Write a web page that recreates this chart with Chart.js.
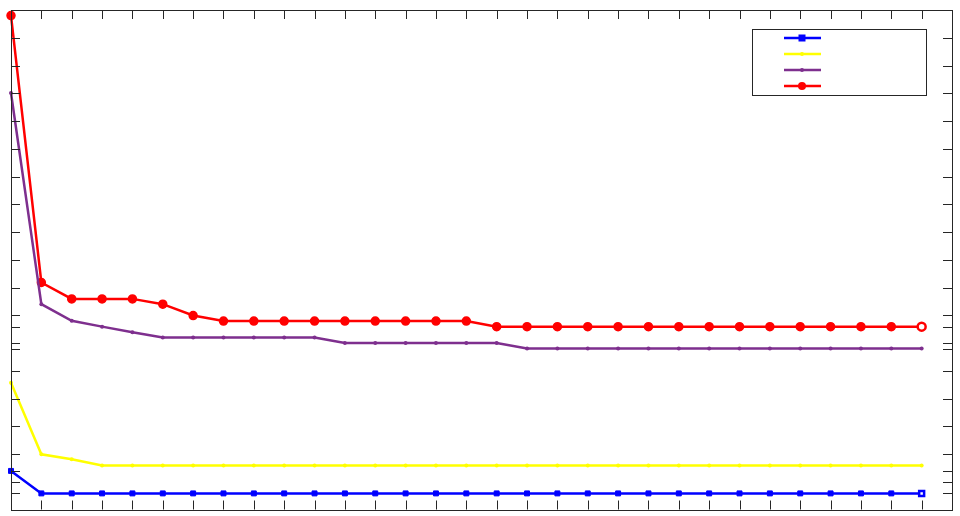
<!DOCTYPE html>
<html>
<head>
<meta charset="utf-8">
<script src="https://cdn.jsdelivr.net/npm/chart.js@4/dist/chart.umd.min.js"></script>
<style>
html,body{margin:0;padding:0;background:#fff;}
#wrap{width:960px;height:516px;position:relative;}
</style>
</head>
<body>
<div id="wrap"><canvas id="c"></canvas></div>
<script>
const xLabels = ['1','2','3','4','5','6','7','8','9','10','11','12','13','14','15','16','17','18','19','20','21','22','23','24','25','26','27','28','29','30','31','32'];
const blueValues = [1.39,0.58,0.58,0.58,0.58,0.58,0.58,0.58,0.58,0.58,0.58,0.58,0.58,0.58,0.58,0.58,0.58,0.58,0.58,0.58,0.58,0.58,0.58,0.58,0.58,0.58,0.58,0.58,0.58,0.58,0.58];
const yellowValues = [4.57,1.99,1.81,1.59,1.59,1.59,1.59,1.59,1.59,1.59,1.59,1.59,1.59,1.59,1.59,1.59,1.59,1.59,1.59,1.59,1.59,1.59,1.59,1.59,1.59,1.59,1.59,1.59,1.59,1.59,1.59];
const purpleValues = [15.01,7.40,6.80,6.59,6.39,6.20,6.20,6.20,6.20,6.20,6.20,6.00,6.00,6.00,6.00,6.00,6.00,5.80,5.80,5.80,5.80,5.80,5.80,5.80,5.80,5.80,5.80,5.80,5.80,5.80,5.80];
const redValues = [17.80,8.18,7.59,7.59,7.59,7.40,6.99,6.79,6.79,6.79,6.79,6.79,6.79,6.79,6.79,6.79,6.59,6.59,6.59,6.59,6.59,6.59,6.59,6.59,6.59,6.59,6.59,6.59,6.59,6.59,6.59];
const yTickValues = [0,1,2,3,4,5,6,7,8,9,10,11,12,13,14,15,16,17,18,0.58,1.39,5.80,6.59];
const seriesNames = ['', '', '', ''];

function lastOther(base, last, n){ const a = new Array(n).fill(base); a[n-1] = last; return a; }

const boxPlugin = {
  id: 'boxPlugin',
  afterDraw(chart){
    const ctx = chart.ctx, a = chart.chartArea;
    const xs = chart.scales.x, ys = chart.scales.y;
    ctx.save();
    ctx.strokeStyle = '#262626';
    ctx.lineWidth = 1;
    ctx.strokeRect(Math.round(a.left)+0.5, Math.round(a.top)+0.5, Math.round(a.right-a.left), Math.round(a.bottom-a.top));
    const tl = 9;
    ctx.beginPath();
    xs.ticks.forEach((t,i)=>{
      const px = Math.round(xs.getPixelForTick(i))+0.5;
      ctx.moveTo(px, a.bottom); ctx.lineTo(px, a.bottom - tl);
      ctx.moveTo(px, a.top); ctx.lineTo(px, a.top + tl);
    });
    ys.ticks.forEach(t=>{
      const py = Math.round(ys.getPixelForValue(t.value))+0.5;
      ctx.moveTo(a.left, py); ctx.lineTo(a.left + tl, py);
      ctx.moveTo(a.right, py); ctx.lineTo(a.right - tl, py);
    });
    ctx.stroke();
    // legend
    const lx = 752, ly = 29, lw = 174, lh = 66;
    ctx.fillStyle = '#ffffff';
    ctx.fillRect(lx, ly, lw, lh);
    ctx.strokeStyle = '#262626';
    ctx.strokeRect(lx+0.5, ly+0.5, lw, lh);
    chart.data.datasets.forEach((ds,i)=>{
      const y = 38 + i*16;
      ctx.strokeStyle = ds.borderColor;
      ctx.lineWidth = ds.borderWidth;
      ctx.beginPath(); ctx.moveTo(784, y); ctx.lineTo(821, y); ctx.stroke();
      ctx.fillStyle = ds.borderColor;
      ctx.beginPath();
      if (ds.pointStyle === 'rect') { ctx.fillRect(802-ds.legendR, y-ds.legendR, ds.legendR*2, ds.legendR*2); }
      else { ctx.arc(802, y, ds.legendR, 0, Math.PI*2); ctx.fill(); }
      if (ds.label) { ctx.fillStyle = '#000'; ctx.font = '11px Liberation Sans'; ctx.fillText(ds.label, 826, y+4); }
    });
    ctx.restore();
  }
};

const n = redValues.length;
new Chart(document.getElementById('c'), {
  type: 'line',
  data: {
    labels: xLabels,
    datasets: [
      {label: seriesNames[0], data: blueValues, borderColor: '#0000ff', backgroundColor: lastOther('#0000ff', '#ffffff', n), pointBorderColor: '#0000ff', borderWidth: 2.5, pointStyle: 'rect', pointRadius: 3.5, legendR: 3.5, pointBorderWidth: lastOther(1, 2.5, n), tension: 0, clip: false},
      {label: seriesNames[1], data: yellowValues, borderColor: '#ffff00', backgroundColor: '#ffff00', pointBorderColor: '#ffff00', borderWidth: 2.5, pointStyle: 'circle', pointRadius: 2, legendR: 2, pointBorderWidth: 0, tension: 0, clip: false},
      {label: seriesNames[2], data: purpleValues, borderColor: '#7e2f8e', backgroundColor: '#7e2f8e', pointBorderColor: '#7e2f8e', borderWidth: 2.5, pointStyle: 'circle', pointRadius: 2, legendR: 2, pointBorderWidth: 0, tension: 0, clip: false},
      {label: seriesNames[3], data: redValues, borderColor: '#ff0000', backgroundColor: lastOther('#ff0000', '#ffffff', n), pointBorderColor: '#ff0000', borderWidth: 2.5, pointStyle: 'circle', pointRadius: 4, legendR: 4, pointBorderWidth: lastOther(1.5, 2.5, n), tension: 0, clip: false}
    ]
  },
  options: {
    responsive: true,
    maintainAspectRatio: false,
    animation: false,
    layout: {padding: {left: 11, right: 8, top: 10, bottom: 6}},
    plugins: {legend: {display: false}, tooltip: {enabled: false}},
    scales: {
      x: {type: 'category', display: false, offset: false},
      y: {type: 'linear', display: false, min: 0, max: 18,
          afterBuildTicks(scale){ scale.ticks = yTickValues.map(v => ({value: v})); }}
    }
  },
  plugins: [boxPlugin]
});
</script>
</body>
</html>
